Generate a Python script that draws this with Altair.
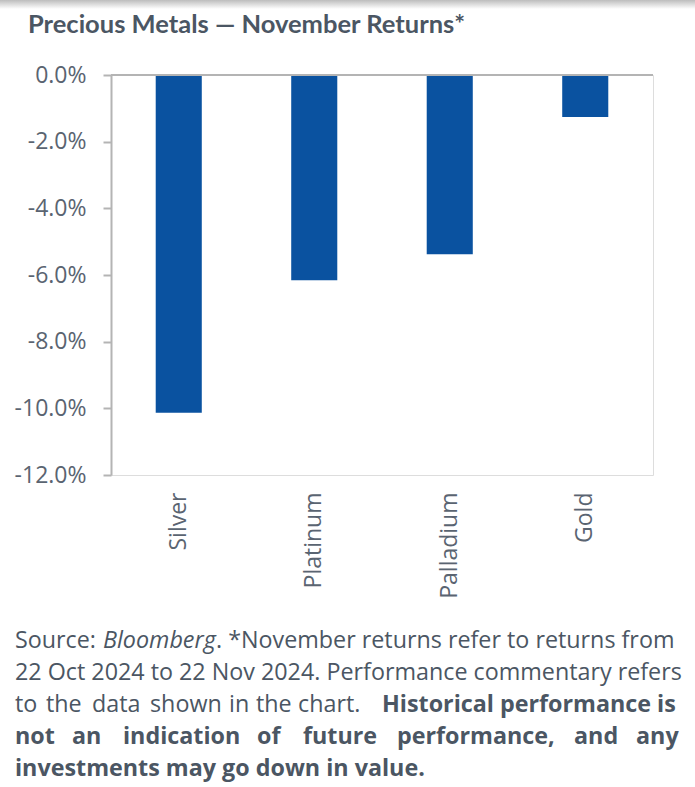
import altair as alt
import pandas as pd

# November returns for the precious metals (fractions)
metals = ["Silver", "Platinum", "Palladium", "Gold"]
returns = [-0.1013, -0.0616, -0.0538, -0.0126]

tick_values = [0.0, -0.02, -0.04, -0.06, -0.08, -0.10, -0.12]

title_text = "Precious Metals \u2014 November Returns*"

# Footnote pieces: (text, style, left edge in page px, line index)
footnote = [
    ("Source:", "normal", 15, 0),
    ("Bloomberg", "italic", 103, 0),
    (". *November returns refer to returns from", "normal", 216, 0),
    ("22 Oct 2024 to 22 Nov 2024. Performance commentary refers", "normal", 15, 1),
    ("to", "normal", 15, 2),
    ("the", "normal", 46, 2),
    ("data", "normal", 92, 2),
    ("shown", "normal", 150, 2),
    ("in", "normal", 229, 2),
    ("the", "normal", 256, 2),
    ("chart.", "normal", 298, 2),
    ("Historical performance is", "bold", 382, 2),
    ("not", "bold", 15, 3),
    ("an", "bold", 72, 3),
    ("indication", "bold", 123, 3),
    ("of", "bold", 257, 3),
    ("future", "bold", 303, 3),
    ("performance,", "bold", 397, 3),
    ("and", "bold", 574, 3),
    ("any", "bold", 636, 3),
    ("investments may go down in value.", "bold", 15, 4),
]
line_baselines = [648, 680, 712, 744, 776]

W, H = 695, 787
PAD_L, PAD_T = 111, 75
PLOT_W, PLOT_H = 542, 400

TEXT = "#4b5663"
AXIS_TEXT = "#5a6471"
AXIS_LINE = "#b4b4b4"
BAR = "#0a52a0"

df = pd.DataFrame({"metal": metals, "ret": returns})

x_enc = alt.X(
    "metal:N",
    sort=metals,
    scale=alt.Scale(paddingInner=0.66, paddingOuter=0.33),
    axis=alt.Axis(
        title=None, labelAngle=270, domain=False, ticks=False,
        labelPadding=17, labelFont="Open Sans", labelFontSize=23,
        labelColor=AXIS_TEXT,
    ),
)
y_enc = alt.Y(
    "ret:Q",
    scale=alt.Scale(domain=[-0.12, 0.0], nice=False, zero=True),
    axis=alt.Axis(
        title=None, values=tick_values, grid=False,
        labelExpr="replace(format(datum.value, '.1%'), '\u2212', '-')",
        labelFont="Open Sans", labelFontSize=23, labelColor=AXIS_TEXT,
        labelPadding=17, domainColor=AXIS_LINE, domainWidth=2,
        tickColor=AXIS_LINE, tickWidth=2, tickSize=8,
    ),
)

bars = alt.Chart(df).mark_bar(color=BAR).encode(x=x_enc, y=y_enc)

zero_line = alt.Chart(df).mark_rule(color=AXIS_LINE, strokeWidth=2).encode(
    y=alt.datum(0)
)

# soft grey band along the top edge of the page
shade = alt.Chart(pd.DataFrame({"k": [0]})).mark_rect(
    color=alt.Gradient(
        gradient="linear",
        stops=[alt.GradientStop(color="#bdbdbd", offset=0),
               alt.GradientStop(color="#ffffff", offset=1)],
        x1=0, x2=0, y1=0, y2=1,
    )
).encode(
    x=alt.value(-PAD_L), x2=alt.value(W - PAD_L),
    y=alt.value(-PAD_T), y2=alt.value(-PAD_T + 9),
)

title = alt.Chart(pd.DataFrame({"t": [title_text]})).mark_text(
    align="left", baseline="alphabetic", font="Lato", fontSize=25.5,
    fontWeight="bold", color=TEXT,
).encode(text="t:N", x=alt.value(28 - PAD_L), y=alt.value(33 - PAD_T))

foot = pd.DataFrame(
    [{"w": t, "style": s, "px": left - PAD_L, "py": line_baselines[i] - PAD_T}
     for t, s, left, i in footnote]
)


def foot_layer(style):
    kw = dict(align="left", baseline="alphabetic", font="Open Sans", fontSize=23.3, color=TEXT)
    if style == "bold":
        kw["fontWeight"] = "bold"
    if style == "italic":
        kw["fontStyle"] = "italic"
    return alt.Chart(foot[foot["style"] == style]).mark_text(**kw).encode(
        text="w:N",
        x=alt.X("px:Q", scale=None),
        y=alt.Y("py:Q", scale=None),
    )


chart = alt.layer(
    bars, zero_line, shade, title,
    foot_layer("normal"), foot_layer("italic"), foot_layer("bold"),
).properties(
    width=PLOT_W, height=PLOT_H,
    autosize=alt.AutoSizeParams(type="none"),
    padding={"left": PAD_L, "top": PAD_T, "right": W - PAD_L - PLOT_W, "bottom": H - PAD_T - PLOT_H},
).configure_view(stroke=None).configure(background="white")

chart.save("out.html", embed_options={"renderer": "svg", "actions": False})
